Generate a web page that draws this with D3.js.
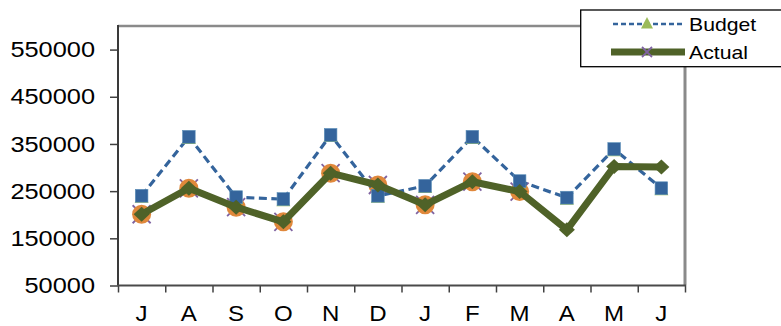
<!DOCTYPE html>
<html>
<head>
<meta charset="utf-8">
<script src="https://cdn.jsdelivr.net/npm/d3@7"></script>
<style>
  html, body { margin: 0; padding: 0; background: #fff; }
  svg { display: block; }
  text { font-family: "Liberation Sans", Arial, sans-serif; fill: #000; }
</style>
</head>
<body>
<svg id="chart" width="781" height="326"></svg>
<script>
// ---- data ----
const months = ["J", "A", "S", "O", "N", "D", "J", "F", "M", "A", "M", "J"];
const budget = [240000, 365000, 237000, 233000, 369000, 240000, 261000, 365000, 271000, 236000, 339000, 256000];
const actual = [201000, 256000, 216000, 185000, 288000, 263000, 221000, 270000, 249000, 168000, 302000, 301000];
const forecast = [201000, 256000, 216000, 185000, 288000, 263000, 221000, 270000, 249000, null, null, null];
const yTicks = [50000, 150000, 250000, 350000, 450000, 550000];
const legendLabels = ["Budget", "Actual"];

// ---- layout ----
const W = 781, H = 326;
const pLeft = 118, pRight = 685, pTop = 26, pBottom = 285.5;

const svg = d3.select("#chart");
svg.append("rect").attr("width", W).attr("height", H).attr("fill", "#fff");

const y = d3.scaleLinear().domain([50000, 600000]).range([pBottom, pTop]);
const x = d3.scaleBand().domain(d3.range(months.length)).range([pLeft, pRight]);
const xEdge = d3.scaleLinear().domain([0, months.length]).range([pLeft, pRight]);
const cx = i => x(i) + x.bandwidth() / 2;

// plot area frame (top & right in grey)
svg.append("line").attr("x1", pLeft).attr("x2", pRight).attr("y1", y(600000)).attr("y2", y(600000))
  .attr("stroke", "#8a8a8a").attr("stroke-width", 2.5);
svg.append("line").attr("x1", pRight).attr("x2", pRight).attr("y1", pTop).attr("y2", pBottom)
  .attr("stroke", "#8a8a8a").attr("stroke-width", 3);

// y axis
const yAxis = svg.append("g").attr("transform", `translate(${pLeft},0)`)
  .call(d3.axisLeft(y).tickValues(yTicks).tickSize(8).tickFormat(""));
yAxis.select(".domain").remove();
yAxis.selectAll(".tick line").attr("stroke", "#404040").attr("stroke-width", 1.5);
svg.append("line").attr("x1", pLeft).attr("x2", pLeft).attr("y1", pTop - 1).attr("y2", pBottom)
  .attr("stroke", "#3a3a3a").attr("stroke-width", 2);

yTicks.forEach(v => {
  svg.append("text")
    .attr("transform", `translate(95,${y(v) + 7.7}) scale(1.18,1)`)
    .attr("text-anchor", "end")
    .style("font-size", "21.5px")
    .text(d3.format("d")(v));
});

// x axis (ticks at category boundaries)
const xAxis = svg.append("g").attr("transform", `translate(0,${pBottom})`)
  .call(d3.axisBottom(xEdge).tickValues(d3.range(months.length + 1)).tickSize(7).tickFormat(""));
xAxis.select(".domain").remove();
xAxis.selectAll(".tick line").attr("stroke", "#404040").attr("stroke-width", 1.5);
svg.append("line").attr("x1", pLeft).attr("x2", pRight + 1).attr("y1", pBottom).attr("y2", pBottom)
  .attr("stroke", "#4a4a4a").attr("stroke-width", 2);

months.forEach((m, i) => {
  svg.append("text")
    .attr("transform", `translate(${cx(i)},${321}) scale(1.12,1)`)
    .attr("text-anchor", "middle")
    .style("font-size", "21.5px")
    .text(m);
});

// ---- series ----
const purple = "#7f63a1", orange = "#e0883b", blue = "#34649c", green = "#4f6228", lightGreen = "#9bbb59";

// purple x marks (under orange circles)
forecast.forEach((v, i) => {
  if (v == null) return;
  const px = cx(i), py = y(v), s = 9;
  svg.append("path")
    .attr("d", `M${px - s},${py - s}L${px + s},${py + s}M${px - s},${py + s}L${px + s},${py - s}`)
    .attr("stroke", purple).attr("stroke-width", 1.8).attr("fill", "none");
});
// orange circles
forecast.forEach((v, i) => {
  if (v == null) return;
  svg.append("circle").attr("cx", cx(i)).attr("cy", y(v)).attr("r", 9.5).attr("fill", orange);
});

// budget dashed line
const line = d3.line().x((d, i) => cx(i)).y(d => y(d));
svg.append("path").datum(budget).attr("d", line)
  .attr("fill", "none").attr("stroke", blue).attr("stroke-width", 3.2)
  .attr("stroke-dasharray", "8,4.5");
// budget markers: green triangle under blue square
budget.forEach((v, i) => {
  const px = cx(i), py = y(v);
  svg.append("path")
    .attr("d", `M${px},${py - 6}L${px + 7},${py + 7}L${px - 7},${py + 7}Z`)
    .attr("fill", lightGreen);
  svg.append("rect").attr("x", px - 6.3).attr("y", py - 6.5).attr("width", 12.6).attr("height", 12.8)
    .attr("fill", blue).attr("stroke", "#5b8fb8").attr("stroke-width", 0.6);
});

// actual thick line
svg.append("path").datum(actual).attr("d", line)
  .attr("fill", "none").attr("stroke", green).attr("stroke-width", 7)
  .attr("stroke-linejoin", "round");
actual.forEach((v, i) => {
  const px = cx(i), py = y(v);
  svg.append("path")
    .attr("d", `M${px - 8},${py}L${px},${py - 7.5}L${px + 8},${py}L${px},${py + 7.5}Z`)
    .attr("fill", green);
});

// ---- legend ----
const lg = svg.append("g");
lg.append("rect").attr("x", 580.7).attr("y", 10).attr("width", 220).attr("height", 56.7)
  .attr("fill", "#fff").attr("stroke", "#000").attr("stroke-width", 1.3);
// Budget row
lg.append("line").attr("x1", 613).attr("x2", 682).attr("y1", 24).attr("y2", 24)
  .attr("stroke", blue).attr("stroke-width", 2.5).attr("stroke-dasharray", "5,3");
lg.append("path").attr("d", "M647,17L653,28.5L641,28.5Z").attr("fill", lightGreen);
lg.append("text").attr("transform", "translate(689,30.6) scale(1.14,1)")
  .style("font-size", "18.6px").text(legendLabels[0]);
// Actual row
lg.append("line").attr("x1", 611).attr("x2", 685).attr("y1", 52).attr("y2", 52)
  .attr("stroke", green).attr("stroke-width", 7);
lg.append("path").attr("d", "M642,47L652,57M642,57L652,47")
  .attr("stroke", purple).attr("stroke-width", 1.8);
lg.append("text").attr("transform", "translate(689,58.6) scale(1.14,1)")
  .style("font-size", "18.6px").text(legendLabels[1]);
</script>
</body>
</html>
